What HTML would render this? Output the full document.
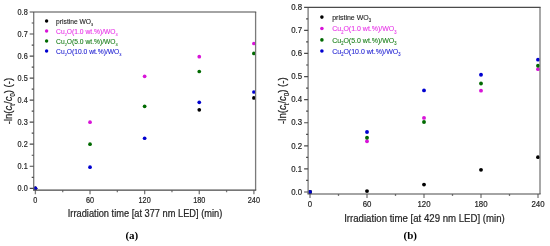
<!DOCTYPE html>
<html><head><meta charset="utf-8"><style>
html,body{margin:0;padding:0;background:#fff;}
body{width:550px;height:246px;overflow:hidden;}
svg{display:block;will-change:transform;font-family:"Liberation Sans",sans-serif;fill:#262626;}
text{stroke:#262626;stroke-width:0.22px;}
text.c{stroke:none;}
</style></head><body>
<svg width="550" height="246" viewBox="0 0 550 246">
<rect width="550" height="246" fill="#fff"/>
<circle cx="35.4" cy="188.3" r="1.85" fill="#000000"/>
<circle cx="199.27" cy="109.84" r="1.85" fill="#000000"/>
<circle cx="253.9" cy="97.94" r="1.85" fill="#000000"/>
<circle cx="35.4" cy="188.3" r="1.85" fill="#d814d8"/>
<circle cx="90.02" cy="122.18" r="1.85" fill="#d814d8"/>
<circle cx="144.65" cy="76.34" r="1.85" fill="#d814d8"/>
<circle cx="199.27" cy="56.72" r="1.85" fill="#d814d8"/>
<circle cx="253.9" cy="43.5" r="1.85" fill="#d814d8"/>
<circle cx="35.4" cy="188.3" r="1.85" fill="#006a00"/>
<circle cx="90.02" cy="144.22" r="1.85" fill="#006a00"/>
<circle cx="144.65" cy="106.31" r="1.85" fill="#006a00"/>
<circle cx="199.27" cy="71.49" r="1.85" fill="#006a00"/>
<circle cx="253.9" cy="53.42" r="1.85" fill="#006a00"/>
<circle cx="35.4" cy="188.3" r="1.85" fill="#0000d0"/>
<circle cx="90.02" cy="167.14" r="1.85" fill="#0000d0"/>
<circle cx="144.65" cy="138.27" r="1.85" fill="#0000d0"/>
<circle cx="199.27" cy="102.34" r="1.85" fill="#0000d0"/>
<circle cx="253.9" cy="91.99" r="1.85" fill="#0000d0"/>
<path d="M33.7 12V190.2 M255.6 12V190.2 M35.4 190.2V194.2 M62.71 190.2V192.2 M90.02 190.2V194.2 M117.34 190.2V192.2 M144.65 190.2V194.2 M171.96 190.2V192.2 M199.27 190.2V194.2 M226.58 190.2V192.2 M253.9 190.2V194.2" stroke="#7a7a7a" stroke-width="1.3" fill="none"/>
<path d="M33.1 12H256.2 M33.1 190.2H256.2 M29.7 188.3H33.7 M31.7 177.28H33.7 M29.7 166.26H33.7 M31.7 155.24H33.7 M29.7 144.22H33.7 M31.7 133.2H33.7 M29.7 122.18H33.7 M31.7 111.16H33.7 M29.7 100.14H33.7 M31.7 89.12H33.7 M29.7 78.1H33.7 M31.7 67.08H33.7 M29.7 56.06H33.7 M31.7 45.04H33.7 M29.7 34.02H33.7 M31.7 23H33.7 M29.7 11.98H33.7" stroke="#4a4a4a" stroke-width="1.2" fill="none"/>
<text transform="translate(27.7 190.92) scale(0.811 1)" font-size="9" text-anchor="end">0.0</text>
<text transform="translate(27.7 168.88) scale(0.811 1)" font-size="9" text-anchor="end">0.1</text>
<text transform="translate(27.7 146.84) scale(0.811 1)" font-size="9" text-anchor="end">0.2</text>
<text transform="translate(27.7 124.8) scale(0.811 1)" font-size="9" text-anchor="end">0.3</text>
<text transform="translate(27.7 102.76) scale(0.811 1)" font-size="9" text-anchor="end">0.4</text>
<text transform="translate(27.7 80.72) scale(0.811 1)" font-size="9" text-anchor="end">0.5</text>
<text transform="translate(27.7 58.68) scale(0.811 1)" font-size="9" text-anchor="end">0.6</text>
<text transform="translate(27.7 36.64) scale(0.811 1)" font-size="9" text-anchor="end">0.7</text>
<text transform="translate(27.7 14.6) scale(0.811 1)" font-size="9" text-anchor="end">0.8</text>
<text transform="translate(35.4 203.04) scale(0.811 1)" font-size="9" text-anchor="middle">0</text>
<text transform="translate(90.02 203.04) scale(0.811 1)" font-size="9" text-anchor="middle">60</text>
<text transform="translate(144.65 203.04) scale(0.811 1)" font-size="9" text-anchor="middle">120</text>
<text transform="translate(199.27 203.04) scale(0.811 1)" font-size="9" text-anchor="middle">180</text>
<text transform="translate(253.9 203.04) scale(0.811 1)" font-size="9" text-anchor="middle">240</text>
<text transform="translate(145.05 217.3) scale(0.892 1)" font-size="10.4" text-anchor="middle">Irradiation time [at 377 nm LED] (min)</text>
<text transform="translate(12.1 101.1) rotate(-90) scale(1 1.12)" text-anchor="middle" font-size="9.6">-ln(<tspan font-style="italic">c</tspan><tspan font-size="5.76" dy="2.69">t</tspan><tspan dy="-2.69">/</tspan><tspan font-style="italic">c</tspan><tspan font-size="5.76" dy="2.69">0</tspan><tspan dy="-2.69">) (-)</tspan></text>
<circle cx="46.6" cy="21" r="1.72" fill="#000000"/>
<text transform="translate(56.1 23.7) scale(0.893 1)" font-size="7.5" style="fill:#222222;stroke:#222222;stroke-width:0.12px">pristine WO<tspan font-size="4.35" dy="2.25">3</tspan></text>
<circle cx="46.6" cy="31" r="1.72" fill="#d814d8"/>
<text transform="translate(56.1 33.7) scale(0.893 1)" font-size="7.5" style="fill:#e838e8;stroke:#e838e8;stroke-width:0.12px">Cu<tspan font-size="4.35" dy="2.25">2</tspan><tspan dy="-2.25">O(1.0 wt.%)/WO</tspan><tspan font-size="4.35" dy="2.25">3</tspan></text>
<circle cx="46.6" cy="41" r="1.72" fill="#006a00"/>
<text transform="translate(56.1 43.7) scale(0.893 1)" font-size="7.5" style="fill:#1f821f;stroke:#1f821f;stroke-width:0.12px">Cu<tspan font-size="4.35" dy="2.25">2</tspan><tspan dy="-2.25">O(5.0 wt.%)/WO</tspan><tspan font-size="4.35" dy="2.25">3</tspan></text>
<circle cx="46.6" cy="51" r="1.72" fill="#0000d0"/>
<text transform="translate(56.1 53.7) scale(0.893 1)" font-size="7.5" style="fill:#2828d4;stroke:#2828d4;stroke-width:0.12px">Cu<tspan font-size="4.35" dy="2.25">2</tspan><tspan dy="-2.25">O(10.0 wt.%)/WO</tspan><tspan font-size="4.35" dy="2.25">3</tspan></text>
<text x="131.8" y="239.4" text-anchor="middle" font-family="Liberation Serif, serif" font-weight="bold" font-size="11" style="fill:#000;stroke:none">(a)</text>
<circle cx="310" cy="192" r="1.93" fill="#000000"/>
<circle cx="367" cy="191.08" r="1.93" fill="#000000"/>
<circle cx="424" cy="184.61" r="1.93" fill="#000000"/>
<circle cx="481" cy="169.83" r="1.93" fill="#000000"/>
<circle cx="538" cy="157.13" r="1.93" fill="#000000"/>
<circle cx="310" cy="192" r="1.93" fill="#d814d8"/>
<circle cx="367" cy="141.2" r="1.93" fill="#d814d8"/>
<circle cx="424" cy="117.88" r="1.93" fill="#d814d8"/>
<circle cx="481" cy="90.63" r="1.93" fill="#d814d8"/>
<circle cx="538" cy="69.16" r="1.93" fill="#d814d8"/>
<circle cx="310" cy="192" r="1.93" fill="#006a00"/>
<circle cx="367" cy="137.74" r="1.93" fill="#006a00"/>
<circle cx="424" cy="122.04" r="1.93" fill="#006a00"/>
<circle cx="481" cy="83.48" r="1.93" fill="#006a00"/>
<circle cx="538" cy="65.7" r="1.93" fill="#006a00"/>
<circle cx="310" cy="192" r="1.93" fill="#0000d0"/>
<circle cx="367" cy="131.97" r="1.93" fill="#0000d0"/>
<circle cx="424" cy="90.4" r="1.93" fill="#0000d0"/>
<circle cx="481" cy="74.7" r="1.93" fill="#0000d0"/>
<circle cx="538" cy="59.69" r="1.93" fill="#0000d0"/>
<path d="M308.1 7.3V194 M540 7.3V194 M310 194V198 M338.5 194V196 M367 194V198 M395.5 194V196 M424 194V198 M452.5 194V196 M481 194V198 M509.5 194V196 M538 194V198" stroke="#7a7a7a" stroke-width="1.3" fill="none"/>
<path d="M307.5 7.3H540.6 M307.5 194H540.6 M304.1 192H308.1 M306.1 180.45H308.1 M304.1 168.91H308.1 M306.1 157.37H308.1 M304.1 145.82H308.1 M306.1 134.28H308.1 M304.1 122.73H308.1 M306.1 111.18H308.1 M304.1 99.64H308.1 M306.1 88.09H308.1 M304.1 76.55H308.1 M306.1 65H308.1 M304.1 53.46H308.1 M306.1 41.91H308.1 M304.1 30.37H308.1 M306.1 18.82H308.1 M304.1 7.28H308.1" stroke="#4a4a4a" stroke-width="1.2" fill="none"/>
<text transform="translate(302.1 194.75) scale(0.835 1)" font-size="9.4" text-anchor="end">0.0</text>
<text transform="translate(302.1 171.66) scale(0.835 1)" font-size="9.4" text-anchor="end">0.1</text>
<text transform="translate(302.1 148.57) scale(0.835 1)" font-size="9.4" text-anchor="end">0.2</text>
<text transform="translate(302.1 125.48) scale(0.835 1)" font-size="9.4" text-anchor="end">0.3</text>
<text transform="translate(302.1 102.39) scale(0.835 1)" font-size="9.4" text-anchor="end">0.4</text>
<text transform="translate(302.1 79.3) scale(0.835 1)" font-size="9.4" text-anchor="end">0.5</text>
<text transform="translate(302.1 56.21) scale(0.835 1)" font-size="9.4" text-anchor="end">0.6</text>
<text transform="translate(302.1 33.12) scale(0.835 1)" font-size="9.4" text-anchor="end">0.7</text>
<text transform="translate(302.1 10.03) scale(0.835 1)" font-size="9.4" text-anchor="end">0.8</text>
<text transform="translate(310 207.13) scale(0.835 1)" font-size="9.4" text-anchor="middle">0</text>
<text transform="translate(367 207.13) scale(0.835 1)" font-size="9.4" text-anchor="middle">60</text>
<text transform="translate(424 207.13) scale(0.835 1)" font-size="9.4" text-anchor="middle">120</text>
<text transform="translate(481 207.13) scale(0.835 1)" font-size="9.4" text-anchor="middle">180</text>
<text transform="translate(538 207.13) scale(0.835 1)" font-size="9.4" text-anchor="middle">240</text>
<text transform="translate(424.45 221.5) scale(0.889 1)" font-size="10.85" text-anchor="middle">Irradiation time [at 429 nm LED] (min)</text>
<text transform="translate(285.7 100.65) rotate(-90) scale(1 1.12)" text-anchor="middle" font-size="9.65">-ln(<tspan font-style="italic">c</tspan><tspan font-size="5.79" dy="2.7">t</tspan><tspan dy="-2.7">/</tspan><tspan font-style="italic">c</tspan><tspan font-size="5.79" dy="2.7">0</tspan><tspan dy="-2.7">) (-)</tspan></text>
<circle cx="321.9" cy="17.1" r="1.8" fill="#000000"/>
<text transform="translate(332.2 19.92) scale(0.893 1)" font-size="7.84" style="fill:#222222;stroke:#222222;stroke-width:0.12px">pristine WO<tspan font-size="4.55" dy="2.35">3</tspan></text>
<circle cx="321.9" cy="28.5" r="1.8" fill="#d814d8"/>
<text transform="translate(332.2 31.32) scale(0.893 1)" font-size="7.84" style="fill:#e838e8;stroke:#e838e8;stroke-width:0.12px">Cu<tspan font-size="4.55" dy="2.35">2</tspan><tspan dy="-2.35">O(1.0 wt.%)/WO</tspan><tspan font-size="4.55" dy="2.35">3</tspan></text>
<circle cx="321.9" cy="39.9" r="1.8" fill="#006a00"/>
<text transform="translate(332.2 42.72) scale(0.893 1)" font-size="7.84" style="fill:#1f821f;stroke:#1f821f;stroke-width:0.12px">Cu<tspan font-size="4.55" dy="2.35">2</tspan><tspan dy="-2.35">O(5.0 wt.%)/WO</tspan><tspan font-size="4.55" dy="2.35">3</tspan></text>
<circle cx="321.9" cy="51" r="1.8" fill="#0000d0"/>
<text transform="translate(332.2 53.82) scale(0.893 1)" font-size="7.84" style="fill:#2828d4;stroke:#2828d4;stroke-width:0.12px">Cu<tspan font-size="4.55" dy="2.35">2</tspan><tspan dy="-2.35">O(10.0 wt.%)/WO</tspan><tspan font-size="4.55" dy="2.35">3</tspan></text>
<text x="410.3" y="239.4" text-anchor="middle" font-family="Liberation Serif, serif" font-weight="bold" font-size="11" style="fill:#000;stroke:none">(b)</text>
</svg>
</body></html>
